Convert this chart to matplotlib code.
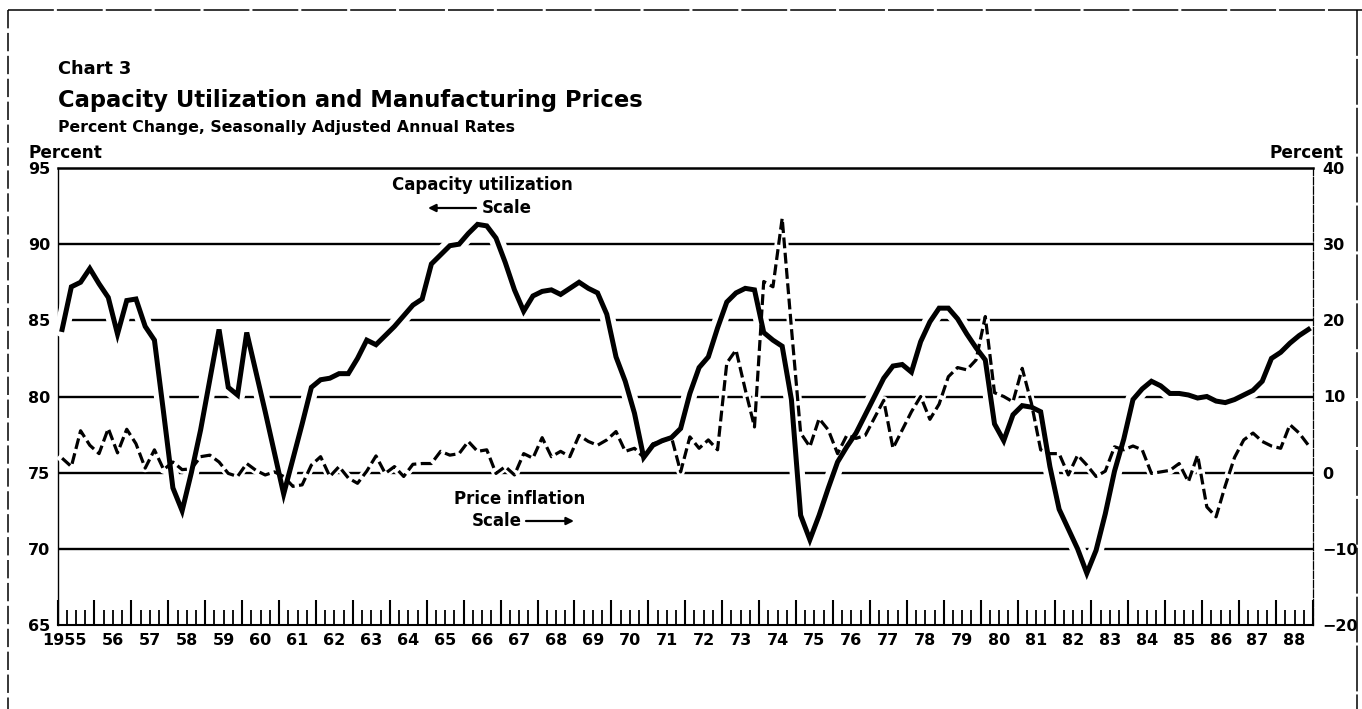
import numpy as np
import matplotlib
matplotlib.use("Agg")
import matplotlib.pyplot as plt
from matplotlib.lines import Line2D
from matplotlib.patches import FancyArrowPatch
from matplotlib.transforms import blended_transform_factory

# ---------------- data (quarterly, 1955Q1 .. 1988Q4) ----------------
start_year = 1955
cap_util = [
    84.4, 87.2, 87.5, 88.4, 87.4, 86.5, 84.1, 86.3, 86.4, 84.6,
    83.7, 78.9, 74.0, 72.5, 75.0, 77.8, 81.1, 84.4, 80.6, 80.1,
    84.2, 81.6, 79.0, 76.3, 73.6, 75.9, 78.2, 80.6, 81.1, 81.2,
    81.5, 81.5, 82.5, 83.7, 83.4, 84.0, 84.6, 85.3, 86.0, 86.4,
    88.7, 89.3, 89.9, 90.0, 90.7, 91.3, 91.2, 90.4, 88.8, 87.0,
    85.6, 86.6, 86.9, 87.0, 86.7, 87.1, 87.5, 87.1, 86.8, 85.4,
    82.6, 81.0, 78.9, 76.0, 76.8, 77.1, 77.3, 77.9, 80.2, 81.9,
    82.6, 84.5, 86.2, 86.8, 87.1, 87.0, 84.2, 83.7, 83.3, 79.8,
    72.2, 70.6, 72.2, 74.0, 75.7, 76.7, 77.6, 78.8, 80.0, 81.2,
    82.0, 82.1, 81.6, 83.6, 84.9, 85.8, 85.8, 85.1, 84.1, 83.2,
    82.4, 78.2, 77.1, 78.8, 79.4, 79.3, 79.0, 75.4, 72.6, 71.3,
    70.0, 68.4, 69.9, 72.3, 75.1, 77.2, 79.8, 80.5, 81.0, 80.7,
    80.2, 80.2, 80.1, 79.9, 80.0, 79.7, 79.6, 79.8, 80.1, 80.4,
    81.0, 82.5, 82.9, 83.5, 84.0, 84.4,
]
price_infl = [
    1.9, 0.8, 5.5, 3.6, 2.5, 5.8, 2.6, 5.7, 3.8, 0.6,
    3.0, 0.4, 1.4, 0.4, 0.5, 2.1, 2.3, 1.4, -0.1, -0.5,
    1.2, 0.3, -0.3, 0.1, -0.5, -1.8, -1.6, 1.0, 2.1, -0.5,
    0.8, -0.7, -1.4, 0.2, 2.2, -0.1, 0.8, -0.5, 1.1, 1.2,
    1.2, 2.8, 2.3, 2.5, 4.1, 2.8, 3.0, -0.1, 0.8, -0.3,
    2.5, 1.9, 4.6, 2.1, 2.8, 2.1, 4.9, 4.1, 3.6, 4.3,
    5.4, 2.8, 3.2, 2.0, 3.8, 4.1, 4.7, 0.1, 4.7, 3.2,
    4.3, 3.0, 14.4, 16.1, 10.9, 6.0, 25.1, 24.4, 33.4, 19.0,
    5.2, 3.4, 7.1, 5.6, 2.5, 4.9, 4.5, 4.9, 7.2, 9.5,
    3.2, 5.6, 8.0, 10.0, 7.0, 9.0, 12.6, 13.8, 13.5, 14.8,
    20.5, 10.5, 10.0, 9.3, 13.7, 9.1, 3.0, 2.5, 2.5, -0.3,
    2.3, 1.0, -0.5, 0.2, 3.4, 3.0, 3.5, 3.0, -0.1, 0.1,
    0.3, 1.2, -1.2, 2.3, -4.5, -5.8, -1.7, 2.0, 4.3, 5.2,
    4.1, 3.5, 3.2, 6.3, 5.2, 3.6,
]
year_ticks = list(range(1955, 1990))
year_labels = ["1955"] + [f"{y % 100:02d}" for y in range(1956, 1989)]
left_ticks = [65, 70, 75, 80, 85, 90, 95]
right_ticks = [-20, -10, 0, 10, 20, 30, 40]

quarters = start_year + (np.arange(len(cap_util)) + 0.5) / 4.0

# ---------------- figure ----------------
W, H = 1362, 709
plt.rcParams["font.family"] = ["DejaVu Sans"]
fig = plt.figure(figsize=(W / 100, H / 100), dpi=100)


def fx(x):
    return x / W


def fy(y):
    return 1 - y / H


L, R, T, B = 57.5, 1313, 168, 625
ax = fig.add_axes([fx(L), fy(B), fx(R) - fx(L), fy(T) - fy(B)])
ax2 = ax.twinx()

ax.set_xlim(1955, 1989)
ax.set_ylim(65, 95)
ax2.set_ylim(-20, 40)

# gridlines
for v in left_ticks[1:-1]:
    ax.axhline(v, color="black", lw=1.7, zorder=1)

# halos (white) then lines, all on ax2 so halos sit under both lines
ax2.plot(quarters, cap_util, transform=ax.transData, color="white",
         lw=11, solid_capstyle="round", zorder=2)
ax2.plot(quarters, price_infl, color="white", lw=6, zorder=2)
ax2.plot(quarters, cap_util, transform=ax.transData, color="black",
         lw=3.6, solid_joinstyle="miter", zorder=3)
ax2.plot(quarters, price_infl, color="black", lw=2.3,
         dashes=(3.4, 1.4), zorder=3)

# spines
for s in ["top", "left", "bottom"]:
    ax2.spines[s].set_visible(False)
ax.spines["right"].set_visible(False)
ax.spines["top"].set_linewidth(1.8)
ax.spines["left"].set_linewidth(1.0)
ax.spines["bottom"].set_linewidth(1.5)
ax2.spines["right"].set_linewidth(0.9)
ax2.spines["right"].set_linestyle((0, (6, 1.5)))

# x ticks
ax.set_xticks(year_ticks)
ax.set_xticks(np.arange(1955, 1989.01, 0.25), minor=True)
ax.tick_params(axis="x", which="major", direction="in", length=18, width=1.5,
               labelbottom=False)
ax.tick_params(axis="x", which="minor", direction="in", length=11, width=1.3)

tick_font = dict(fontsize=11.5, fontweight="bold")
trans = blended_transform_factory(ax.transData, ax.transAxes)
for yr, lab in zip(year_ticks, year_labels):
    if lab == "1955":
        ax.annotate(lab, xy=(yr + 0.5, 0), xycoords=trans, xytext=(8, -11.5),
                    textcoords="offset points", ha="right", va="center",
                    **tick_font)
    else:
        ax.annotate(lab, xy=(yr + 0.5, 0), xycoords=trans, xytext=(0, -11.5),
                    textcoords="offset points", ha="center", va="center",
                    **tick_font)

# y ticks
ax.set_yticks(left_ticks)
ax.set_yticklabels([str(v) for v in left_ticks], **tick_font)
ax.tick_params(axis="y", length=0, pad=5)
ax2.set_yticks(right_ticks)
ax2.set_yticklabels([str(v).replace("-", "\u2212") for v in right_ticks],
                    **tick_font)
ax2.tick_params(axis="y", length=0, pad=7)

# ---------------- texts ----------------
fig.text(fx(58), fy(74), "Chart 3", fontsize=12.8, fontweight="bold",
         va="baseline", ha="left")
fig.text(fx(58), fy(107), "Capacity Utilization and Manufacturing Prices",
         fontsize=16.3, fontweight="bold", va="baseline", ha="left")
fig.text(fx(58), fy(132), "Percent Change, Seasonally Adjusted Annual Rates",
         fontsize=11.3, fontweight="bold", va="baseline", ha="left")
fig.text(fx(28), fy(158), "Percent", fontsize=12.2, fontweight="bold",
         va="baseline", ha="left")
fig.text(fx(1343), fy(158), "Percent", fontsize=12.2, fontweight="bold",
         va="baseline", ha="right")

ann_font = dict(fontsize=12, fontweight="bold")
fig.text(fx(482), fy(185), "Capacity utilization", ha="center", va="center",
         **ann_font)
fig.text(fx(482), fy(208), "Scale", ha="left", va="center", **ann_font)
fig.text(fx(520), fy(499), "Price inflation", ha="center", va="center",
         **ann_font)
fig.text(fx(522), fy(521), "Scale", ha="right", va="center", **ann_font)

arrow = dict(arrowstyle="-|>", lw=1.6, color="black", mutation_scale=11,
             shrinkA=0, shrinkB=0)
fig.add_artist(FancyArrowPatch(
    (fx(476), fy(208)), (fx(428), fy(208)), transform=fig.transFigure, **arrow))
fig.add_artist(FancyArrowPatch(
    (fx(526), fy(521)), (fx(574), fy(521)), transform=fig.transFigure, **arrow))

# outer dashed frame
frame = dict(transform=fig.transFigure, color="black", lw=1.1)
fig.add_artist(Line2D([fx(8), fx(1362)], [fy(10), fy(10)],
                      ls=(0, (30, 2)), **frame))
fig.add_artist(Line2D([fx(8), fx(8)], [fy(10), fy(709)],
                      ls=(0, (12, 3)), **frame))
fig.add_artist(Line2D([fx(1357), fx(1357)], [fy(10), fy(709)],
                      ls=(0, (30, 2)), **frame))

fig.savefig("out.png", dpi=100)
